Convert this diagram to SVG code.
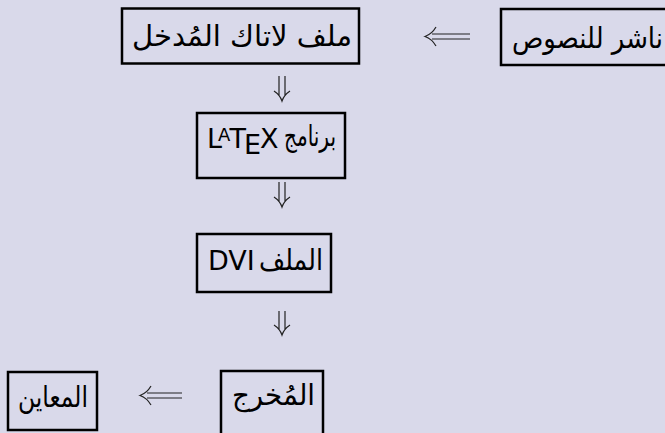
<svg xmlns="http://www.w3.org/2000/svg" width="665" height="433" viewBox="0 0 665 433">
<style>
.box{fill:none;stroke:#000;stroke-width:2.5}
.ar{font-family:"DejaVu Sans",sans-serif;font-size:29px;fill:#000}
.lat{font-family:"DejaVu Sans",sans-serif;font-size:27px;fill:#000}
.arr{fill:none;stroke:#222;stroke-width:1.2}
</style>
<rect width="665" height="433" fill="#d9d9ea"/>
<g id="n-editor">
<rect class="box" x="501" y="9" width="190" height="56"/>
<text class="ar" x="512" y="48" textLength="151" lengthAdjust="spacingAndGlyphs">ناشر للنصوص</text>
</g>
<g id="n-input">
<rect class="box" x="122" y="8.5" width="237" height="55"/>
<text class="ar" x="132" y="46" textLength="220" lengthAdjust="spacingAndGlyphs">ملف لاتاك المُدخل</text>
</g>
<g id="n-latex">
<rect class="box" x="197" y="113" width="148" height="65"/>
<text class="lat" x="207" y="148">L<tspan font-size="18" dx="-4" dy="-7">A</tspan><tspan dx="-1" dy="7">T</tspan><tspan dx="-2" dy="6">E</tspan><tspan dx="-1" dy="-6">X</tspan></text>
<text class="ar" x="284" y="146" textLength="52" lengthAdjust="spacingAndGlyphs">برنامج</text>
</g>
<g id="n-dvi">
<rect class="box" x="197" y="234" width="134" height="58"/>
<text class="lat" x="208" y="270">DVI</text>
<text class="ar" x="259" y="270" textLength="64" lengthAdjust="spacingAndGlyphs">الملف</text>
</g>
<g id="n-output">
<rect class="box" x="221" y="371" width="102" height="64"/>
<text class="ar" x="232" y="405" textLength="83" lengthAdjust="spacingAndGlyphs">المُخرج</text>
</g>
<g id="n-viewer">
<rect class="box" x="8" y="372" width="89" height="58"/>
<text class="ar" x="18" y="407" textLength="70" lengthAdjust="spacingAndGlyphs">المعاين</text>
</g>
<g id="connectors">
<path class="arr" d="M432 34H470M432 39H470M436 27Q432 34 425 36.5Q432 39 436 46"/>
<path class="arr" d="M147 393H182M147 398H182M151 386Q147 393 140 395.5Q147 398 151 405"/>
<path class="arr" d="M279 76V96M285 76V96M274 91Q280 95 282 101Q284 95 290 91"/>
<path class="arr" d="M279 182V202M285 182V202M274 197Q280 201 282 207Q284 201 290 197"/>
<path class="arr" d="M279 311V330M285 311V330M274 325Q280 329 282 335Q284 329 290 325"/>
</g>
</svg>
